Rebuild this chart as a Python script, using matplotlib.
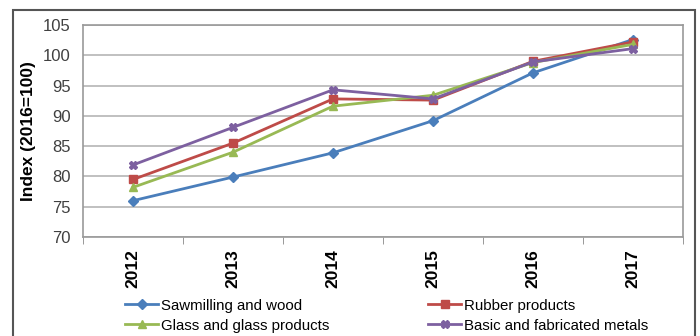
import matplotlib.pyplot as plt
from matplotlib.patches import Rectangle

plt.rcParams['font.family'] = ['Liberation Sans', 'DejaVu Sans']

years = ["2012", "2013", "2014", "2015", "2016", "2017"]
sawmilling = [76.0, 79.9, 83.9, 89.2, 97.1, 102.6]
rubber = [79.5, 85.5, 92.8, 92.6, 99.0, 102.2]
glass = [78.2, 84.0, 91.6, 93.4, 98.8, 101.8]
metals = [81.9, 88.1, 94.3, 92.8, 98.9, 101.1]

fig = plt.figure(figsize=(7, 3.36), dpi=100)
ax = fig.add_axes([0.1186, 0.2946, 0.857, 0.631])

# outer frame around the whole chart
fig.patches.append(Rectangle((13 / 700, -0.2), 682 / 700, 1.2 - 10 / 336,
                             transform=fig.transFigure, fill=False,
                             edgecolor="#555555", linewidth=1.5))

x = range(len(years))
l1, = ax.plot(x, sawmilling, color="#4a7ebb", lw=2.0, marker="D", ms=5,
              label="Sawmilling and wood")
l2, = ax.plot(x, rubber, color="#be4b48", lw=2.0, marker="s", ms=6,
              label="Rubber products")
l3, = ax.plot(x, glass, color="#98b954", lw=2.0, marker="^", ms=6,
              label="Glass and glass products")
l4, = ax.plot(x, metals, color="#7d60a0", lw=2.0, marker="X", ms=6,
              label="Basic and fabricated metals")

ax.set_xlim(-0.5, 5.5)
ax.set_ylim(70, 105)
ax.set_yticks(range(70, 106, 5))
ax.yaxis.grid(True, color="#bbbbbb", lw=1.3)
ax.set_axisbelow(True)

ax.set_xticks(list(x))
ax.set_xticklabels(years, rotation=90, fontsize=12.5, fontweight="bold")
ax.set_xticks([i - 0.5 for i in range(7)], minor=True)
ax.tick_params(axis="x", which="major", length=0, pad=9)
ax.tick_params(axis="x", which="minor", length=5, color="#888888")
ax.tick_params(axis="y", length=0, labelsize=12, labelcolor="#404040", pad=9)

for s in ax.spines.values():
    s.set_color("#999999")
    s.set_linewidth(1.2)

ax.set_ylabel("Index (2016=100)", fontsize=12.5, fontweight="bold", labelpad=5)

ax.legend([l1, l3, l2, l4],
          [l1.get_label(), l3.get_label(), l2.get_label(), l4.get_label()],
          ncol=2, loc="upper left", bbox_to_anchor=(0.06, -0.262),
          frameon=False, fontsize=10.8, handlelength=2.2, handletextpad=0.2,
          columnspacing=6.6, labelspacing=0.4, borderaxespad=0)

fig.savefig("out.png", dpi=100)
